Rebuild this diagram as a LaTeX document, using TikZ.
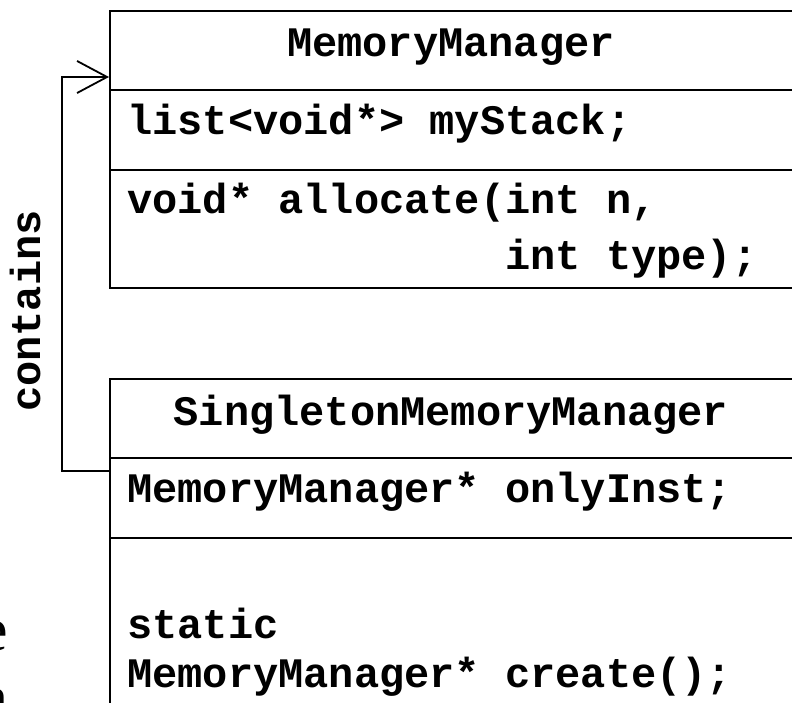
\documentclass[tikz,border=0pt]{standalone}
\usepackage{fontspec}
\setmainfont{Liberation Serif}
\newfontfamily\codefont{Liberation Mono}
\usetikzlibrary{arrows.meta}
\begin{document}
\begin{tikzpicture}[x=1bp,y=-1bp,
  compartment/.style={draw, line width=1.8bp, inner sep=0, anchor=north west,
    minimum width=690bp},
  code/.style={font=\codefont\bfseries\fontsize{42bp}{49bp}\selectfont, inner sep=0},
  bigserif/.style={font=\fontsize{62bp}{68bp}\selectfont, inner sep=0, anchor=base east},
  link/.style={draw, line width=1.8bp, -{Straight Barb[length=30bp, width=32bp]}}
]
\useasboundingbox (0,0) rectangle (792,703);
\clip (0,0) rectangle (792,703);

% class MemoryManager
\node[compartment, minimum height=79bp]  (mmname) at (109,10)  {};
\node[compartment, minimum height=80bp]  (mmattr) at (109,89)  {};
\node[compartment, minimum height=118bp] (mmops)  at (109,169) {};
\node[code, anchor=base] (mmtitle) at (451,57) {MemoryManager};
\node[code, anchor=base west] (mmstack) at (127,135) {list<void*> myStack;};
\node[code, anchor=base west] (mmalloc1) at (127,213) {void* allocate(int n,};
\node[code, anchor=base west] (mmalloc2) at (127,269) {\phantom{void* allocate(}int type);};

% class SingletonMemoryManager
\node[compartment, minimum height=79bp]  (smname) at (109,378) {};
\node[compartment, minimum height=80bp]  (smattr) at (109,457) {};
\node[compartment, minimum height=190bp] (smops)  at (109,537) {};
\node[code, anchor=base] (smtitle) at (451,425) {SingletonMemoryManager};
\node[code, anchor=base west] (sminst) at (127,502) {MemoryManager* onlyInst;};
\node[code, anchor=base west] (smstatic) at (127,638) {static};
\node[code, anchor=base west] (smcreate) at (127,687) {MemoryManager* create();};

% association
\draw[link] ([yshift=-14bp]smattr.north west) -- ++(-47,0)
  |- ([yshift=12bp]mmattr.north west);
\node[code, rotate=90, anchor=base west] (contains) at (40,412) {contains};

% large text cut at the left edge
\node[bigserif] (cutE) at (8,650) {e};
\node[bigserif] (cutN) at (9,718) {n};
\end{tikzpicture}
\end{document}
